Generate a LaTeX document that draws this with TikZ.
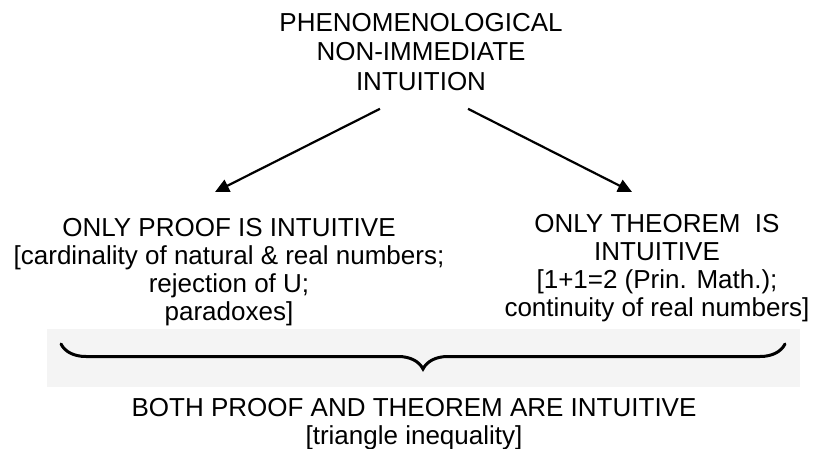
\documentclass[tikz,border=0pt]{standalone}
\usepackage{fontspec}
\setmainfont{Liberation Sans}
\usetikzlibrary{positioning, arrows.meta, decorations.pathreplacing}
\definecolor{bandgray}{HTML}{F4F4F4}

\begin{document}
\begin{tikzpicture}[x=1pt, y=-1pt,
        txt/.style={align=center, inner sep=0pt, anchor=north, font=\fontsize{26}{28}\selectfont},
        arr/.style={line width=2.2pt, -{Triangle[length=14pt, width=13pt]}}]
      \useasboundingbox (0,0) rectangle (814,449);
      % band behind the brace
      \fill[bandgray] (47,329) rectangle (800,387);
      \node[txt, font=\fontsize{26}{29.5}\selectfont] (phen) at (421,13) {PHENOMENOLOGICAL\\NON-IMMEDIATE\\INTUITION};
      \node[txt] (proof) at (229,218) {ONLY PROOF IS INTUITIVE\\{[cardinality of natural \& real numbers;}\\rejection of U;\\paradoxes]};
      \node[txt] (thm) at (657,214) {ONLY THEOREM\ \ IS\\INTUITIVE\\{[1+1=2 (Prin. Math.);}\\continuity of real numbers]};
      \node[txt] (both) at (414,398) {BOTH PROOF AND THEOREM ARE INTUITIVE\\{[triangle inequality]}};
      \draw[arr] ([shift={(-41,18)}]phen.south) -- ([shift={(-14,-26)}]proof.north);
      \draw[arr] ([shift={(47,18)}]phen.south) -- ([shift={(-25,-22)}]thm.north);
      % brace
      \draw[line width=3pt, line cap=round, decorate, decoration={brace, mirror, amplitude=25pt, aspect=0.5}]
        (61,344) -- (785,344);
    \end{tikzpicture}
\end{document}
